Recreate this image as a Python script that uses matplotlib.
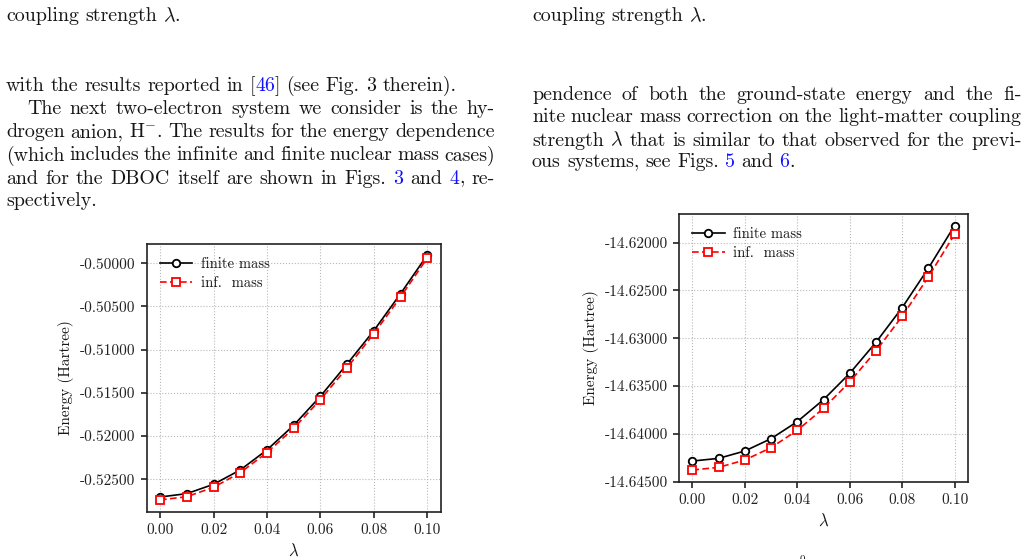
import re
import numpy as np
import matplotlib
matplotlib.use("Agg")
import matplotlib.pyplot as plt
from matplotlib.ticker import FixedLocator, FuncFormatter

plt.rcParams['font.family'] = ['cmr10', 'DejaVu Serif']
plt.rcParams['mathtext.fontset'] = 'cm'
plt.rcParams['axes.unicode_minus'] = False
plt.rcParams['axes.formatter.use_mathtext'] = False

# ---------------- data ----------------
lam = [0.00, 0.01, 0.02, 0.03, 0.04, 0.05, 0.06, 0.07, 0.08, 0.09, 0.10]
hm_finite = [-0.52705, -0.52666, -0.52558, -0.52392, -0.52160, -0.51875,
             -0.51539, -0.51165, -0.50779, -0.50351, -0.49904]
hm_inf = [-0.52739, -0.52701, -0.52593, -0.52423, -0.52191, -0.51910,
          -0.51577, -0.51208, -0.50814, -0.50390, -0.49938]
r_finite = [-14.64284, -14.64256, -14.64179, -14.64050, -14.63872, -14.63642,
            -14.63367, -14.63043, -14.62680, -14.62268, -14.61822]
r_inf = [-14.64378, -14.64350, -14.64273, -14.64144, -14.63963, -14.63733,
         -14.63457, -14.63133, -14.62771, -14.62359, -14.61913]
x_ticks = [0.00, 0.02, 0.04, 0.06, 0.08, 0.10]
left_yticks = [-0.525, -0.520, -0.515, -0.510, -0.505, -0.500]
right_yticks = [-14.645, -14.640, -14.635, -14.630, -14.625, -14.620]
legend_labels = ["finite mass", "inf.  mass"]

left_lines = [
    ("coupling strength $\\lambda$.", False, 0),
    ("with the results reported in [#46#] (see Fig. 3 therein).", False, 0),
    ("The next two-electron system we consider is the hy-", True, 21),
    ("drogen anion, H$^{-}$. The results for the energy dependence", True, 0),
    ("(which includes the infinite and finite nuclear mass cases)", True, 0),
    ("and for the DBOC itself are shown in Figs. #3# and #4#, re-", True, 0),
    ("spectively.", False, 0),
]
left_baselines = [21, 91, 114, 137, 160.5, 183.5, 206]
right_lines = [
    ("coupling strength $\\lambda$.", False, 0),
    ("pendence of both the ground-state energy and the fi-", True, 0),
    ("nite nuclear mass correction on the light-matter coupling", True, 0),
    ("strength $\\lambda$ that is similar to that observed for the previ-", True, 0),
    ("ous systems, see Figs. #5# and #6#.", False, 0),
]
right_baselines = [21, 99.5, 122.5, 145.5, 167]

W, H = 1028, 559
fig = plt.figure(figsize=(W / 100, H / 100), dpi=100)
renderer = fig.canvas.get_renderer()
TXT = '#161616'
BLUE = '#1010ff'


def fx(px):
    return px / W


def fy(py):
    return 1 - py / H


def parse_word(word):
    pieces = []
    parts = word.split('#')
    for i, p in enumerate(parts):
        if p:
            pieces.append((p, BLUE if i % 2 == 1 else TXT))
    return pieces


def measure(s, fs):
    t = fig.text(0, 0, s, fontsize=fs)
    w = t.get_window_extent(renderer).width
    t.remove()
    return w


# autofit body font size so that a known (unjustified) line has its width
ref_w = measure("with the results reported in [46] (see Fig. 3 therein).", 10)
body_fs = 10 * 455.0 / ref_w
space_px = 0.31 * body_fs * 100 / 72


def draw_line(s, x0, x1, base, justify):
    words = [parse_word(w) for w in s.split(' ')]
    widths = []
    for wd in words:
        widths.append(sum(measure(p, body_fs) for p, c in wd))
    if justify and len(words) > 1:
        gap = (x1 - x0 - sum(widths)) / (len(words) - 1)
    else:
        gap = space_px
    x = x0
    for wd, ww in zip(words, widths):
        xx = x
        for p, c in wd:
            fig.text(fx(xx), fy(base), p, fontsize=body_fs, color=c,
                     va='baseline', ha='left')
            xx += measure(p, body_fs)
        x += ww + gap


for (s, just, ind), b in zip(left_lines, left_baselines):
    draw_line(s, 6 + ind, 495, b, just)
for (s, just, ind), b in zip(right_lines, right_baselines):
    draw_line(s, 532, 1021.5, b, just)

fig.text(fx(802), fy(555.5), "0", fontsize=8, color=TXT, va='top', ha='center')

# ---------------- axes ----------------
fs = 11


def style_axes(ax, yt, ylim, fin, inf):
    ax.plot(lam, fin, color='black', lw=1.2, marker='o', ms=5.4,
            mfc='white', mec='black', mew=1.3, label=legend_labels[0], zorder=3)
    ax.plot(lam, inf, color='red', lw=1.2, ls='--', dashes=(4, 2), marker='s',
            ms=5.6, mfc='white', mec='red', mew=1.3, label=legend_labels[1], zorder=4)
    ax.set_xlim(-0.005, 0.105)
    ax.set_ylim(*ylim)
    ax.xaxis.set_major_locator(FixedLocator(x_ticks))
    ax.yaxis.set_major_locator(FixedLocator(yt))
    ax.xaxis.set_major_formatter(FuncFormatter(lambda v, p: "%.2f" % v))
    ax.yaxis.set_major_formatter(FuncFormatter(lambda v, p: "%.5f" % v))
    ax.grid(True, ls=':', color='#b8b8b8', lw=0.8)
    ax.set_axisbelow(True)
    ax.tick_params(labelsize=fs, colors='#222222', direction='out', length=4.5, width=1.2)
    for sp in ax.spines.values():
        sp.set_linewidth(1.2)
        sp.set_color('#222222')
    ax.set_xlabel(r"$\lambda$", fontsize=fs + 1, color=TXT)
    ax.set_ylabel("Energy (Hartree)", fontsize=fs, color=TXT)
    leg = ax.legend(loc='upper left', frameon=False, fontsize=fs - 0.5,
                    handlelength=2.2, handletextpad=0.6, borderaxespad=0.5,
                    labelspacing=0.35)
    for t in leg.get_texts():
        t.set_color(TXT)


ax1 = fig.add_axes([fx(146.7), fy(511.7), fx(440.7) - fx(146.7), (511.7 - 244) / H])
style_axes(ax1, left_yticks, (-0.52875, -0.49777), hm_finite, hm_inf)

ax2 = fig.add_axes([fx(679.3), fy(481.7), fx(967.7) - fx(679.3), (481.7 - 214.3) / H])
style_axes(ax2, right_yticks, (-14.645, -14.61704), r_finite, r_inf)

fig.savefig("out.png", dpi=100)
